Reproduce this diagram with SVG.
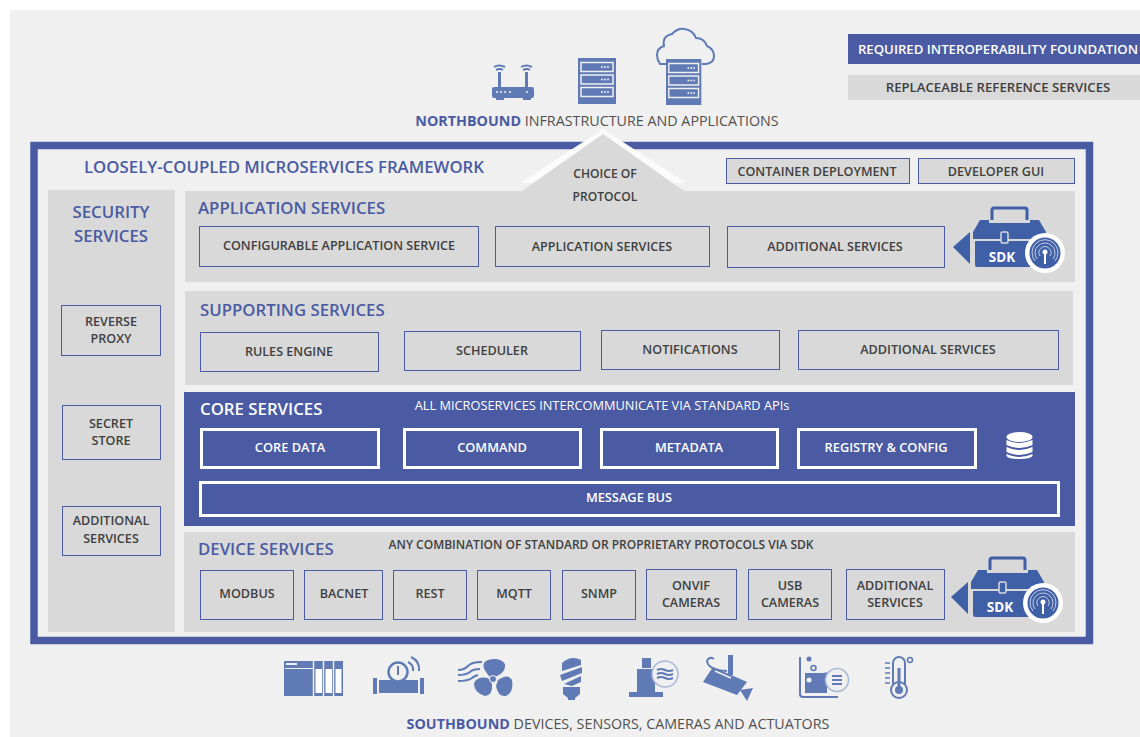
<svg xmlns="http://www.w3.org/2000/svg" width="1140" height="737" viewBox="0 0 1140 737">
<style>
text{font-family:"Open Sans","Liberation Sans",sans-serif;text-anchor:middle}
.b{font-size:12.600px;font-weight:600;fill:#404040}
.w{font-size:12.800px;font-weight:600;fill:#fff}
.h{font-size:16.800px;font-weight:600;fill:#4a5ba3;text-anchor:start}
.t{font-size:14.300px;fill:#505050}
.s{font-size:12.600px;font-weight:600;fill:#404040}
.box{fill:#d9d9d9;stroke:#4a5ba3;stroke-width:1}
.wb{fill:#4a5ba3;stroke:#fff;stroke-width:3}
.pn{fill:#d9d9d9}
.ic{fill:#5f7ab5}
.icl{fill:none;stroke:#5f7ab5;stroke-width:2}
.il{fill:#f0f0f0}
.k{fill:#3f5fa6}
</style>
<defs>
<g id="srv">
<rect x="0" y="0" width="38" height="46" class="ic"/>
<g fill="#5f7ab5" stroke="#f0f0f0" stroke-width="1.500"><rect x="3" y="4.500" width="32" height="9"/><rect x="3" y="17" width="32" height="9"/><rect x="3" y="29.500" width="32" height="9"/></g>
<g class="il"><circle cx="24" cy="9" r="1"/><circle cx="27" cy="9" r="1"/><circle cx="30" cy="9" r="1"/><circle cx="24" cy="21.500" r="1"/><circle cx="27" cy="21.500" r="1"/><circle cx="30" cy="21.500" r="1"/><circle cx="24" cy="34" r="1"/><circle cx="27" cy="34" r="1"/><circle cx="30" cy="34" r="1"/></g>
</g>
<g id="sdk">
<path d="M0 0L17 -15V17Z" class="k"/>
<path d="M39 -27V-37Q39 -39 41 -39H72Q74 -39 74 -37V-27" fill="none" stroke="#3f5fa6" stroke-width="3"/>
<path d="M20 -15L27 -27H36V-24H77V-27H86L93 -15V-8H20Z" class="k"/>
<path d="M22 -6H48V-14H54V-6H92V18Q92 20 90 20H24Q22 20 22 18Z" class="k"/>
<rect x="48" y="-15" width="7" height="11" rx="1.500" class="k" stroke="#d9d9d9" stroke-width="1.500"/>
<text x="49" y="15" style="font-size:13.500px;font-weight:700;fill:#fff">SDK</text>
<circle cx="92" cy="6" r="20" fill="#fff"/>
<circle cx="92" cy="6" r="15.500" class="k"/>
<g fill="none" stroke="#c5cfe6" stroke-width="1"><path d="M87 9A6 6 0 1 1 97 9"/><path d="M84 12A10 10 0 1 1 100 12"/><path d="M82 14A13 13 0 1 1 102 14"/></g>
<path d="M92 5V17" stroke="#fff" stroke-width="2"/><circle cx="92" cy="5" r="2.500" fill="#fff"/>
</g>
</defs>
<rect width="1140" height="737" fill="#fff"/>
<rect x="10" y="10" width="1130" height="727" fill="#f0f0f0"/>

<g id="northbound-icons">
<g id="router">
<rect x="492" y="87" width="42" height="11" rx="2" class="ic"/>
<rect x="496" y="98" width="8" height="2" class="ic"/><rect x="523" y="98" width="8" height="2" class="ic"/>
<rect x="498" y="72" width="3" height="15" class="ic"/><rect x="525" y="72" width="3" height="15" class="ic"/>
<path d="M494 67q5-3 11 0M496 70q4-2 7 0M521 67q5-3 11 0M523 70q4-2 7 0" class="icl" stroke-width="1.200"/>
<g class="il"><circle cx="497" cy="92" r="1"/><circle cx="501" cy="92" r="1"/><circle cx="505" cy="92" r="1"/><circle cx="510" cy="92" r="1"/><circle cx="527" cy="92" r="1"/></g>
</g>
<g id="server"><use href="#srv" x="578" y="58"/></g>
<g id="cloud-server">
<path d="M666 64H660Q657 60 657 55Q657 48 664 46Q662 36 672 34Q678 28 684 29Q693 30 696 38Q704 38 707 46Q714 49 714 56Q714 63 706 64H702" class="icl" stroke-width="2.500"/>
<use href="#srv" transform="translate(666,59) scale(.93,1)"/>
</g>
</g>
<text id="northbound-label" x="597" y="126" class="t"><tspan font-weight="700" fill="#4a5ba3">NORTHBOUND</tspan> INFRASTRUCTURE AND APPLICATIONS</text>

<g id="legend">
<rect x="848" y="34" width="292" height="30" fill="#4a5ba3"/>
<text x="998" y="54" style="font-size:13.200px;font-weight:600;fill:#fff">REQUIRED INTEROPERABILITY FOUNDATION</text>
<rect x="848" y="75" width="292" height="25" fill="#d9d9d9"/>
<text x="998" y="92" style="font-size:13.200px;font-weight:600;fill:#404040">REPLACEABLE REFERENCE SERVICES</text>
</g>

<rect id="framework" x="34" y="145.500" width="1055.500" height="495" fill="#f0f0f0" stroke="#4a5ba3" stroke-width="7.500"/>
<text x="84" y="173" class="h">LOOSELY-COUPLED MICROSERVICES FRAMEWORK</text>

<g id="container-deployment"><rect x="726.500" y="158.500" width="183" height="25" class="box"/><text x="817" y="175.500" class="b">CONTAINER DEPLOYMENT</text></g>
<g id="developer-gui"><rect x="918.500" y="158.500" width="156" height="25" class="box"/><text x="996" y="175.500" class="b">DEVELOPER GUI</text></g>

<g id="security-services">
<rect x="48" y="190" width="127" height="442" class="pn"/>
<text x="111" y="218" class="h" style="text-anchor:middle">SECURITY</text>
<text x="111" y="242" class="h" style="text-anchor:middle">SERVICES</text>
</g>
<g id="reverse-proxy"><rect x="61.500" y="305.500" width="99" height="50" class="box"/><text x="111" y="326" class="s">REVERSE</text><text x="111" y="343" class="s">PROXY</text></g>
<g id="secret-store"><rect x="62.500" y="405.500" width="98" height="54" class="box"/><text x="111" y="428" class="s">SECRET</text><text x="111" y="445" class="s">STORE</text></g>
<g id="security-additional"><rect x="62.500" y="506.500" width="98" height="49" class="box"/><text x="111" y="525" class="s">ADDITIONAL</text><text x="111" y="543" class="s">SERVICES</text></g>

<g id="application-services">
<rect x="185" y="191" width="890" height="91" class="pn"/>
<path d="M520 183L603 129L686 183Z" fill="#fbfbfb"/>
<path d="M522 191L603 134L684 191Z" class="pn"/>
<text x="605" y="178" class="s" style="font-size:12.100px">CHOICE OF</text><text x="605" y="201" class="s" style="font-size:12.100px">PROTOCOL</text>
<text x="198" y="214" class="h">APPLICATION SERVICES</text>
<use href="#sdk" transform="translate(953,247)"/>
</g>
<g id="configurable-app"><rect x="199.500" y="226.500" width="279" height="40" class="box"/><text x="339" y="250" class="b">CONFIGURABLE APPLICATION SERVICE</text></g>
<g id="app-services"><rect x="495.500" y="226.500" width="214" height="40" class="box"/><text x="602" y="251" class="b">APPLICATION SERVICES</text></g>
<g id="app-additional"><rect x="727.500" y="226.500" width="217" height="41" class="box"/><text x="835" y="251" class="b">ADDITIONAL SERVICES</text></g>

<g id="supporting-services">
<rect x="185" y="291" width="888" height="94" class="pn"/>
<text x="200" y="316" class="h">SUPPORTING SERVICES</text>
</g>
<g id="rules-engine"><rect x="200.500" y="332.500" width="178" height="39" class="box"/><text x="289" y="356" class="b">RULES ENGINE</text></g>
<g id="scheduler"><rect x="404.500" y="331.500" width="176" height="39" class="box"/><text x="492" y="355" class="b">SCHEDULER</text></g>
<g id="notifications"><rect x="601.500" y="330.500" width="178" height="39" class="box"/><text x="690" y="354" class="b">NOTIFICATIONS</text></g>
<g id="supporting-additional"><rect x="798.500" y="330.500" width="260" height="39" class="box"/><text x="928" y="354" class="b">ADDITIONAL SERVICES</text></g>

<g id="core-services">
<rect x="184" y="392" width="891" height="134" fill="#4a5ba3"/>
<text x="200" y="415" class="h" style="fill:#fff">CORE SERVICES</text>
<text x="602" y="410" style="font-size:12.800px;fill:#fff">ALL MICROSERVICES INTERCOMMUNICATE VIA STANDARD APIs</text>
<g id="database" fill="#fff">
<ellipse cx="1019.500" cy="437" rx="13" ry="5"/>
<path d="M1006.500 440q13 6 26 0v5q-13 6-26 0zM1006.500 447q13 6 26 0v5q-13 6-26 0zM1006.500 454q13 6 26 0v2q-2 3-13 3t-13-3z"/>
</g>
</g>
<g id="core-data"><rect x="201.500" y="429.500" width="177" height="38" class="wb"/><text x="290" y="452" class="w">CORE DATA</text></g>
<g id="command"><rect x="404.500" y="429.500" width="176" height="38" class="wb"/><text x="492" y="452" class="w">COMMAND</text></g>
<g id="metadata"><rect x="601.500" y="429.500" width="176" height="38" class="wb"/><text x="689" y="452" class="w">METADATA</text></g>
<g id="registry-config"><rect x="798.500" y="429.500" width="177" height="38" class="wb"/><text x="886" y="452" class="w">REGISTRY &amp; CONFIG</text></g>
<g id="message-bus"><rect x="200.500" y="482.500" width="858" height="33" class="wb"/><text x="629" y="502" class="w">MESSAGE BUS</text></g>

<g id="device-services">
<rect x="184" y="532" width="891" height="100" class="pn"/>
<text x="198" y="555" class="h">DEVICE SERVICES</text>
<text x="601" y="549" style="font-size:12px;font-weight:600;fill:#404040">ANY COMBINATION OF STANDARD OR PROPRIETARY PROTOCOLS VIA SDK</text>
<use href="#sdk" transform="translate(951,597)"/>
</g>
<g id="modbus"><rect x="200.500" y="570.500" width="93" height="49" class="box"/><text x="247" y="598" class="b">MODBUS</text></g>
<g id="bacnet"><rect x="304.500" y="570.500" width="78" height="49" class="box"/><text x="344" y="598" class="b">BACNET</text></g>
<g id="rest"><rect x="393.500" y="570.500" width="73" height="49" class="box"/><text x="430" y="598" class="b">REST</text></g>
<g id="mqtt"><rect x="477.500" y="570.500" width="73" height="49" class="box"/><text x="514" y="598" class="b">MQTT</text></g>
<g id="snmp"><rect x="562.500" y="570.500" width="73" height="49" class="box"/><text x="599" y="598" class="b">SNMP</text></g>
<g id="onvif"><rect x="646.500" y="569.500" width="90" height="50" class="box"/><text x="691" y="590" class="b">ONVIF</text><text x="691" y="607" class="b">CAMERAS</text></g>
<g id="usb"><rect x="748.500" y="569.500" width="83" height="50" class="box"/><text x="790" y="590" class="b">USB</text><text x="790" y="607" class="b">CAMERAS</text></g>
<g id="device-additional"><rect x="846.500" y="569.500" width="98" height="50" class="box"/><text x="895" y="590" class="b">ADDITIONAL</text><text x="895" y="607" class="b">SERVICES</text></g>

<g id="southbound-icons">
<g id="plc"><rect x="284" y="661" width="59" height="35" class="ic"/><rect x="286" y="663" width="11" height="2" class="il"/><path d="M313.500 661V696M323.500 661V696M333.500 661V696" stroke="#f0f0f0" stroke-width="1.500"/><rect x="285" y="668" width="28" height="1" class="il"/><rect x="315.500" y="669" width="6.500" height="24" fill="#fff"/><rect x="325.500" y="669" width="6.500" height="24" fill="#fff"/><rect x="335.500" y="669" width="6" height="24" fill="#fff"/></g>
<g id="meter"><rect x="373" y="678" width="4" height="16" class="ic"/><rect x="420" y="678" width="4" height="16" class="ic"/><rect x="379" y="680" width="39" height="13" class="ic"/><rect x="392" y="676" width="13" height="6" class="ic"/><circle cx="398" cy="672" r="9.500" fill="#f0f0f0" stroke="#5f7ab5" stroke-width="2.500"/><path d="M398 666V675" stroke="#5f7ab5" stroke-width="2"/><path d="M408 662q6 3 5 9M411 657q9 4 8 14" class="icl" stroke-width="1.500"/></g>
<g id="fan"><path d="M458 670q6 0 10-4q3-4 14-4M458 675q8 0 12-3q3-3 10-3M458 681q10 0 14-3q2-2 6-3" class="icl" stroke-width="1"/><path d="M490 677Q478 664 488 660Q500 657 505 664Q506 672 497 676Z" class="ic"/><path d="M488 678Q478 676 474 683Q474 693 485 696Q493 695 492 684Z" class="ic"/><path d="M498 680Q508 673 512 680Q514 692 506 696Q498 697 496 686Z" class="ic"/><circle cx="493" cy="679" r="3.500" class="ic" stroke="#f0f0f0"/></g>
<g id="bulb"><path d="M562 663Q571 655 581 660V665L562 671ZM560 675L582 667V673L562 681ZM564 684L581 676V682L572 686Z" class="ic"/><path d="M563 687H580V694L575 698H568L563 694Z" class="ic"/><rect x="568" y="698" width="7" height="2" class="ic"/></g>
<g id="water"><rect x="642" y="658" width="9" height="10" class="ic"/><rect x="637" y="669" width="18" height="23" class="ic"/><rect x="629" y="692" width="34" height="5" class="ic"/><circle cx="665" cy="674" r="13" fill="#f0f0f0" stroke="#a9b8d8" stroke-width="1.500"/><path d="M657 670q4-2 8 0t8 0M657 674q4-2 8 0t8 0M657 678q4-2 8 0t8 0" class="icl" stroke-width="1.300"/></g>
<g id="camera"><rect x="728" y="655" width="5" height="20" class="ic"/><path d="M727 671Q708 670 707 661Q709 656 714 659" class="icl" stroke-width="1.500"/><path d="M713 667L747 682L737 695L703 682Z" class="ic"/><path d="M715 671L731 678" stroke="#f0f0f0" stroke-width="1.500"/><path d="M740 690L753 688L747 701Z" class="ic"/></g>
<g id="tank"><path d="M800 657V694Q800 697 803 697H838" class="icl" stroke-width="3"/><path d="M805 673H824L827 672V693H805Z" class="ic"/><circle cx="809" cy="659" r="2.500" class="ic"/><circle cx="813.500" cy="668" r="2.500" fill="none" stroke="#5f7ab5" stroke-width="1.500"/><circle cx="809" cy="680" r="2.500" fill="#f0f0f0"/><circle cx="837" cy="680" r="11.500" fill="#f0f0f0" stroke="#a9b8d8" stroke-width="1.500"/><path d="M832 676H842M832 680H842M832 684H842" stroke="#5f7ab5" stroke-width="2"/></g>
<g id="thermometer"><path d="M893 684V663a6 6 0 0 1 12 0V684" fill="none" stroke="#5f7ab5" stroke-width="2"/><circle cx="899" cy="690" r="8" fill="#f0f0f0" stroke="#5f7ab5" stroke-width="2"/><circle cx="899" cy="690" r="4" class="ic"/><rect x="897.500" y="668" width="3" height="20" class="ic"/><path d="M885 663H890M885 668H890M885 673H890M885 678H890M885 683H890" stroke="#5f7ab5" stroke-width="1.500"/><circle cx="910" cy="660" r="2.500" fill="none" stroke="#5f7ab5" stroke-width="1.500"/></g>
</g>
<text id="southbound-label" x="618" y="729" class="t"><tspan font-weight="700" fill="#4a5ba3">SOUTHBOUND</tspan> DEVICES, SENSORS, CAMERAS AND ACTUATORS</text>
</svg>
